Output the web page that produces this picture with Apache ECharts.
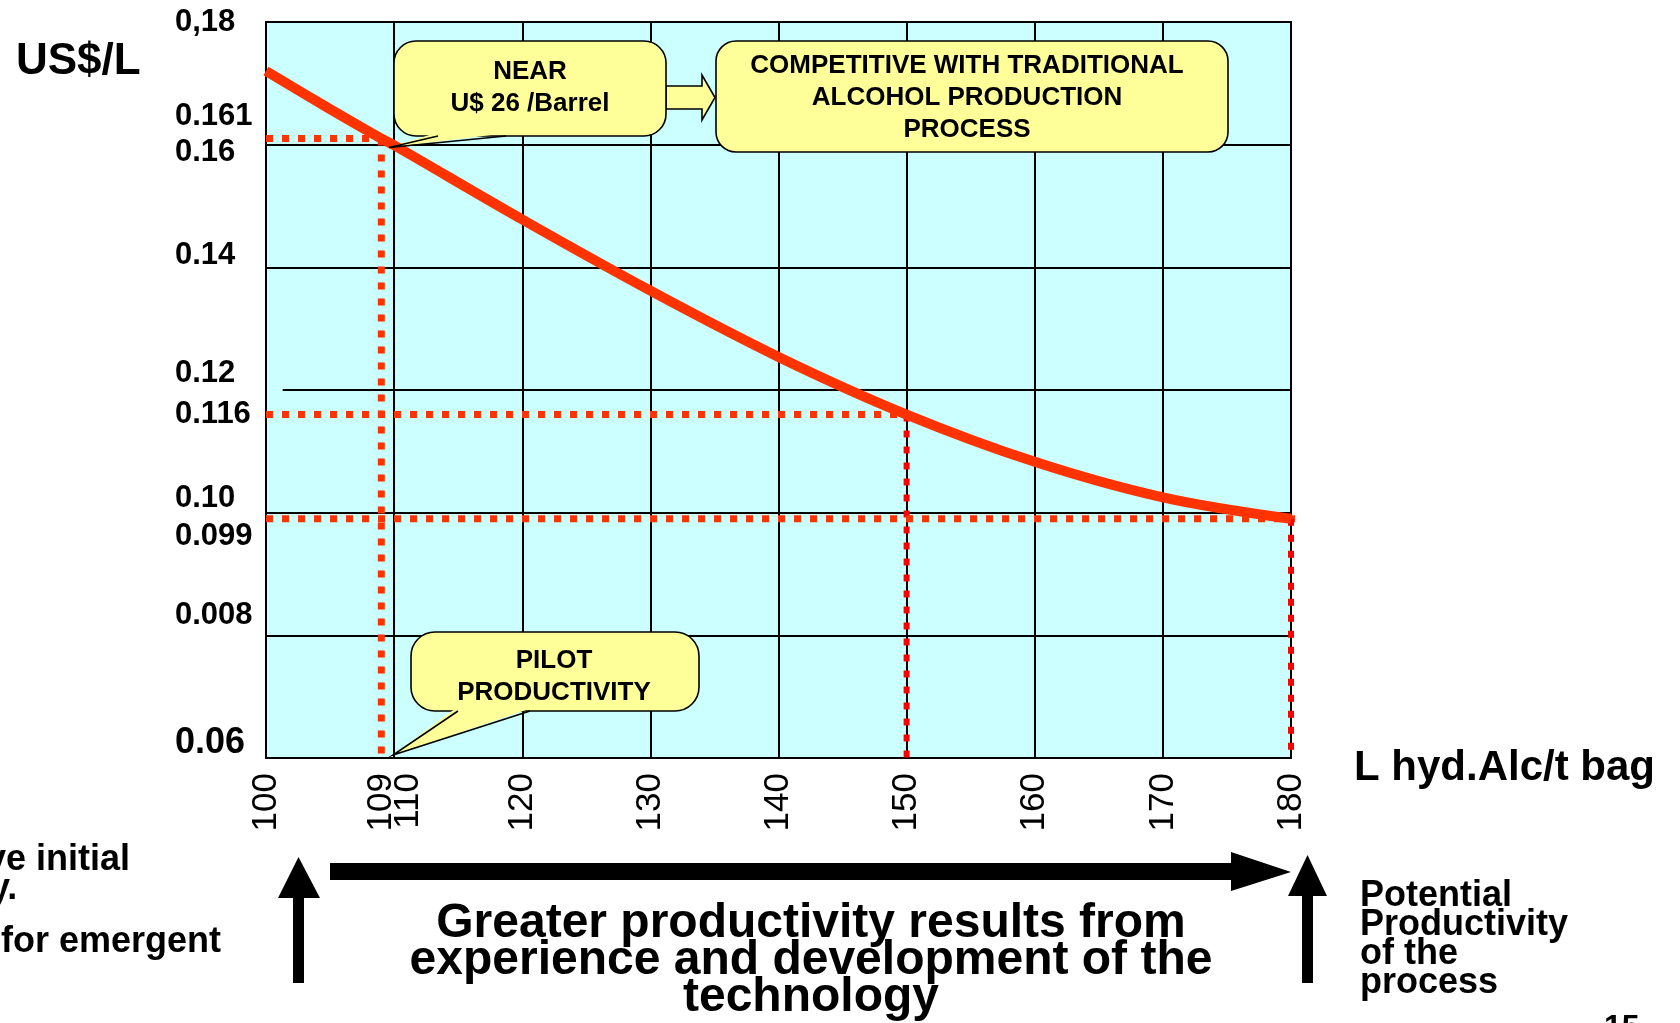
<!DOCTYPE html>
<html>
<head>
<meta charset="utf-8">
<script src="https://cdn.jsdelivr.net/npm/echarts@6/dist/echarts.min.js"></script>
<style>
html,body{margin:0;padding:0;background:#ffffff;}
#chart{width:1680px;height:1023px;}
</style>
</head>
<body>
<div id="chart"></div>
<script>
// ---------------- data ----------------
const xMin = 100, xMax = 180, xStep = 10;
const yMin = 0.06, yMax = 0.18, yStep = 0.02;
const xLabelValues = [100, 109, 110, 120, 130, 140, 150, 160, 170, 180];
const yLabelValues = [0.18, 0.161, 0.16, 0.14, 0.12, 0.116, 0.10, 0.099, 0.08, 0.06];
const yLabelTexts  = ['0,18', '0.161', '0.16', '0.14', '0.12', '0.116', '0.10', '0.099', '0.008', '0.06'];
const curveX = [100, 105, 109, 110, 120, 130, 140, 150, 160, 170, 180];
const curveY = [0.172, 0.1658, 0.161, 0.1599, 0.1478, 0.1362, 0.1254, 0.116, 0.1083, 0.1025, 0.099];
const markX = [109, 150, 180];
const markY = [0.161, 0.116, 0.099];
const markHEnd = [109, 150, 181.25];
const refLineY = 0.12, refLineFrom = 101.3, refLineTo = 181.25;

// ---------------- layout / style ----------------
const F = '"Liberation Sans", Arial, Helvetica, sans-serif';
const ORANGE = '#FF3300', RED = '#FF0000', YEL = '#FFFF99';
const yNudge = {'0,18': 0, '0.161': -22, '0.16': 8, '0.14': -12, '0.12': -16.5,
                '0.116': 0, '0.10': -14, '0.099': 18, '0.008': -20, '0.06': -14.5};
const yRich = {};
yLabelTexts.forEach(function (t, i) {
  const d = yNudge[t] || 0;
  const big = (t === '0.06');
  yRich['y' + i] = {
    fontFamily: F, fontWeight: 'bold', fontSize: big ? 36 : 31, lineHeight: big ? 36 : 31,
    color: '#000', padding: d < 0 ? [0, 0, -2 * d, 0] : [2 * d, 0, 0, 0]
  };
});
const xRich = {
  n: {fontFamily: F, fontSize: 35, color: '#000'},
  s: {fontFamily: F, fontSize: 35, color: '#000', padding: [28, 0, 0, 0]}
};

// guide lines (dotted) built from the annotated points
const guideSeries = [];
const vColors = [ORANGE, RED, RED];
markX.forEach(function (x, i) {
  guideSeries.push({
    type: 'line', symbol: 'none', clip: false, silent: true, z: 3,
    data: [[xMin, markY[i]], [markHEnd[i], markY[i]]],
    lineStyle: {color: ORANGE, width: 7, type: [7, 9], cap: 'butt'}
  });
  guideSeries.push({
    type: 'line', symbol: 'none', clip: false, silent: true, z: 3,
    data: [[x, markY[i]], [x, yMin]],
    lineStyle: {color: vColors[i], width: i === 0 ? 7 : 6, type: [7, 9], cap: 'butt'}
  });
});
guideSeries.push({
  type: 'line', symbol: 'none', clip: false, silent: true, z: 2,
  data: [[refLineFrom, refLineY], [refLineTo, refLineY]],
  lineStyle: {color: '#000', width: 2}
});

function txt(text, x, y, size, align, lh, weight) {
  return {
    type: 'text', z: 100, silent: true,
    style: {
      text: text, x: x, y: y, fill: '#000',
      font: (weight || 'bold') + ' ' + size + 'px ' + F,
      align: align, textAlign: align, verticalAlign: 'middle', textVerticalAlign: 'middle',
      lineHeight: lh || size
    }
  };
}
function callout(box, tail, r) {
  return [
    {type: 'rect', z: 100, silent: true, shape: {x: box[0], y: box[1], width: box[2], height: box[3], r: r},
     style: {fill: YEL, stroke: '#000', lineWidth: 1.6}},
    {type: 'polygon', z: 101, silent: true,
     shape: {points: [[tail[0][0] - 2, tail[0][1] - 3], tail[1], [tail[2][0] + 2, tail[2][1] - 3]]},
     style: {fill: YEL}},
    {type: 'polyline', z: 102, silent: true, shape: {points: tail},
     style: {stroke: '#000', lineWidth: 1.6, fill: null}}
  ];
}

const graphics = [].concat(
  callout([394, 41, 272, 95], [[438, 136], [389, 147.5], [506, 136]], 22),
  [{type: 'polygon', z: 99, silent: true,
    shape: {points: [[666, 86], [702, 86], [702, 75], [715, 97.5], [702, 120], [702, 109], [666, 109]]},
    style: {fill: YEL, stroke: '#000', lineWidth: 1.6}}],
  [{type: 'rect', z: 100, silent: true, shape: {x: 716, y: 41, width: 512, height: 111, r: 20},
    style: {fill: YEL, stroke: '#000', lineWidth: 1.6}}],
  callout([411, 632, 288, 79], [[458, 711], [393, 755], [530, 711]], 24),
  [
    txt('NEAR\nU$ 26 /Barrel', 530, 88, 26, 'center', 32),
    txt('COMPETITIVE WITH TRADITIONAL\nALCOHOL PRODUCTION\nPROCESS', 967, 98, 26, 'center', 32),
    txt('PILOT\nPRODUCTIVITY', 554, 677, 26, 'center', 32),
    txt('US$/L', 16, 62, 44, 'left'),
    txt('L hyd.Alc/t bag', 1354, 768, 42, 'left'),
    txt('Greater productivity results from\nexperience and development of the\ntechnology', 811, 961, 48, 'center', 37),
    txt('Potential\nProductivity\nof the\nprocess', 1360, 940, 36, 'left', 29),
    txt('ve initial', -14, 860, 36, 'left'),
    txt('y.', -10, 889, 36, 'left'),
    txt('for emergent', 1, 942, 36, 'left'),
    txt('15', 1604, 1028, 32, 'left'),
    // arrows
    {type: 'polygon', z: 100, silent: true, shape: {points: [[278, 898], [298.5, 857], [320, 898]]}, style: {fill: '#000'}},
    {type: 'rect', z: 100, silent: true, shape: {x: 293, y: 896, width: 11, height: 87}, style: {fill: '#000'}},
    {type: 'rect', z: 100, silent: true, shape: {x: 330, y: 863, width: 902, height: 17}, style: {fill: '#000'}},
    {type: 'polygon', z: 100, silent: true, shape: {points: [[1231, 852], [1291, 872], [1231, 891]]}, style: {fill: '#000'}},
    {type: 'polygon', z: 100, silent: true, shape: {points: [[1288, 896], [1307.5, 855], [1327, 896]]}, style: {fill: '#000'}},
    {type: 'rect', z: 100, silent: true, shape: {x: 1302, y: 894, width: 11, height: 89}, style: {fill: '#000'}}
  ]
);

const chart = echarts.init(document.getElementById('chart'), null, {renderer: 'canvas'});
chart.setOption({
  animation: false,
  backgroundColor: '#ffffff',
  grid: {left: 266, top: 22, width: 1025, height: 736, containLabel: false, outerBoundsMode: 'none',
         show: true, backgroundColor: '#CCFFFF', borderColor: '#000', borderWidth: 2},
  xAxis: {
    type: 'value', min: xMin, max: xMax, interval: xStep,
    axisLine: {show: false}, axisTick: {show: false},
    splitLine: {show: true, lineStyle: {color: '#000', width: 2}},
    axisLabel: {
      show: true, customValues: xLabelValues, rotate: 90, margin: 15, hideOverlap: false,
      formatter: function (v) { return v === 110 ? '{s|' + v + '}' : '{n|' + v + '}'; },
      rich: xRich, fontFamily: F, fontSize: 35, color: '#000'
    }
  },
  yAxis: {
    type: 'value', min: yMin, max: yMax, interval: yStep,
    axisLine: {show: false}, axisTick: {show: false},
    splitLine: {show: true, lineStyle: {color: ['#000', '#000', '#000', 'rgba(0,0,0,0)', '#000', '#000', '#000'], width: 2}},
    axisLabel: {
      show: true, customValues: yLabelValues, align: 'left', margin: 91, hideOverlap: false,
      verticalAlign: 'middle',
      formatter: function (v) {
        const i = yLabelValues.findIndex(function (t) { return Math.abs(t - v) < 1e-9; });
        return i < 0 ? '' : '{y' + i + '|' + yLabelTexts[i] + '}';
      },
      rich: yRich, fontFamily: F, fontWeight: 'bold', fontSize: 31, color: '#000'
    }
  },
  series: guideSeries.concat([{
    type: 'line', name: 'cost', symbol: 'none', clip: false, z: 5, smooth: 0.35,
    data: curveX.map(function (x, i) { return [x, curveY[i]]; }),
    lineStyle: {color: ORANGE, width: 10}
  }]),
  graphic: {elements: graphics}
});
</script>
</body>
</html>
